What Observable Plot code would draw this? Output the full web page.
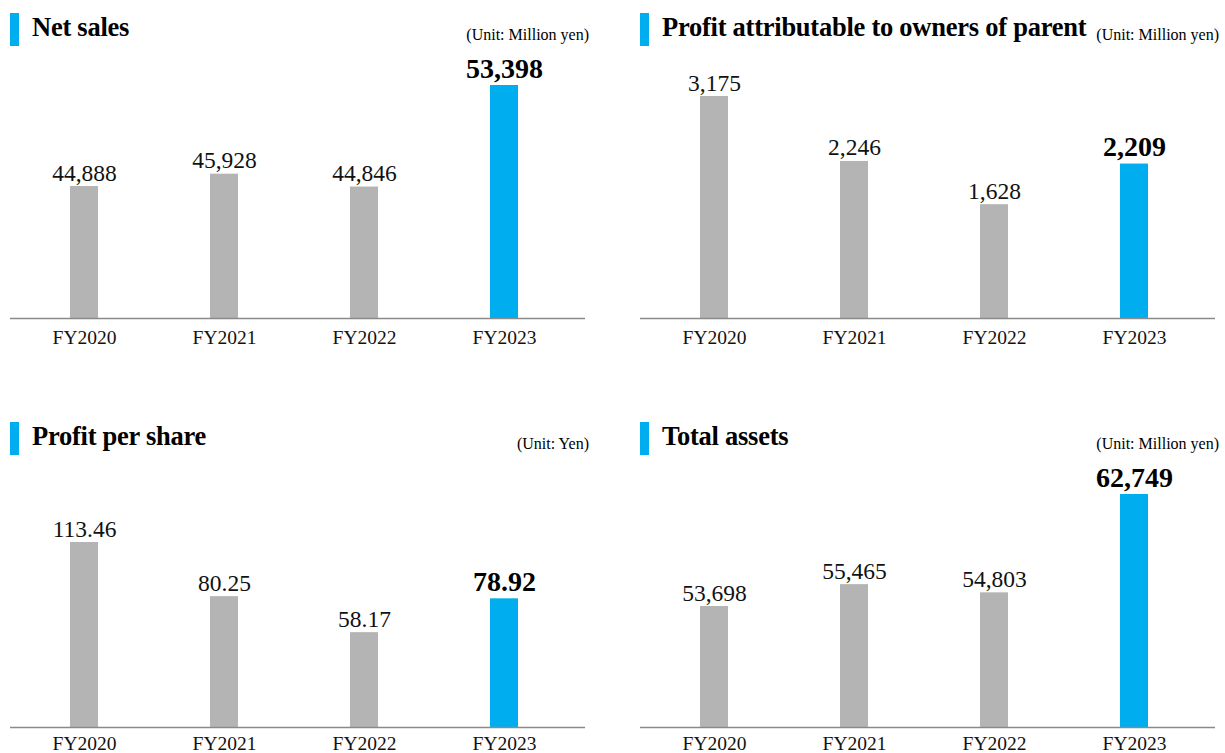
<!DOCTYPE html>
<html><head><meta charset="utf-8">
<script src="https://cdn.jsdelivr.net/npm/d3@7"></script>
<script src="https://cdn.jsdelivr.net/npm/@observablehq/plot@0.6"></script>
<style>
html,body{margin:0;padding:0;background:#fff;overflow:hidden}
#root{position:relative;width:1225px;height:753px;overflow:hidden;font-family:"Liberation Serif",Tinos,"Times New Roman",Times,"Nimbus Roman","DejaVu Serif",serif;color:#000}
.panel{position:absolute;width:612px;height:360px}
.marker{position:absolute;left:10px;top:13px;width:9px;height:33px;background:#00AEEF}
.title{position:absolute;left:32px;top:14px;font-size:26.5px;line-height:26px;font-weight:bold;white-space:nowrap;letter-spacing:-0.25px}
.unit{position:absolute;right:23px;top:27px;font-size:16px;line-height:16px;white-space:nowrap}
.panel svg{position:absolute;left:0;top:0}
</style></head><body><div id="root"></div>
<script>
// ---- data ----
const years = ["FY2020", "FY2021", "FY2022", "FY2023"];
const netSales = [44888, 45928, 44846, 53398];
const profitOwners = [3175, 2246, 1628, 2209];
const profitPerShare = [113.46, 80.25, 58.17, 78.92];
const totalAssets = [53698, 55465, 54803, 62749];
const titles = ["Net sales", "Profit attributable to owners of parent", "Profit per share", "Total assets"];
const units = ["(Unit: Million yen)", "(Unit: Million yen)", "(Unit: Yen)", "(Unit: Million yen)"];
const axisMins = [33770, 0, 0, 43920];

// ---- style ----
const BLUE = "#00AEEF";
const GRAY = "#B4B4B4";
const FONT = "'Liberation Serif', Tinos, 'Times New Roman', Times, 'Nimbus Roman', 'DejaVu Serif', serif";
const intFmt = d3.format(",");
const decFmt = d3.format(".2f");

const panels = [
  {left: 0,   top: 0,   values: netSales,       fmt: intFmt, marginTop: 85,  tickPad: 11.5},
  {left: 630, top: 0,   values: profitOwners,   fmt: intFmt, marginTop: 96,  tickPad: 11.5},
  {left: 0,   top: 409, values: profitPerShare, fmt: decFmt, marginTop: 133, tickPad: 9},
  {left: 630, top: 409, values: totalAssets,    fmt: intFmt, marginTop: 85,  tickPad: 9}
];

const root = document.getElementById("root");
panels.forEach((p, i) => {
  const div = document.createElement("div");
  div.className = "panel";
  div.style.left = p.left + "px";
  div.style.top = p.top + "px";
  const marker = document.createElement("div"); marker.className = "marker";
  const title = document.createElement("div"); title.className = "title"; title.textContent = titles[i];
  const unit = document.createElement("div"); unit.className = "unit"; unit.textContent = units[i];

  const yMin = axisMins[i];
  const data = years.map((y, j) => ({year: y, value: p.values[j]}));
  const past = data.slice(0, -1);
  const latest = data.slice(-1);

  const chart = Plot.plot({
    width: 612, height: 360,
    marginTop: p.marginTop, marginBottom: 42, marginLeft: 10, marginRight: 27,
    style: {fontFamily: FONT, background: "transparent", color: "#111", overflow: "visible"},
    x: {domain: years, range: [13, 575], paddingInner: 0.8, paddingOuter: 0.4, label: null},
    y: {domain: [yMin, d3.max(p.values)], axis: null},
    marks: [
      Plot.barY(past, {x: "year", y1: yMin, y2: "value", fill: GRAY}),
      Plot.barY(latest, {x: "year", y1: yMin, y2: "value", fill: BLUE}),
      Plot.ruleY([yMin], {stroke: "#8a8a8a", strokeWidth: 1.5}),
      Plot.axisX({tickSize: 0, tickPadding: p.tickPad, fontSize: 19.5, fill: "#111", label: null}),
      Plot.text(past, {x: "year", y: "value", text: d => p.fmt(d.value), lineAnchor: "bottom", dy: -6, fontSize: 23.5, fill: "#111"}),
      Plot.text(latest, {x: "year", y: "value", text: d => p.fmt(d.value), lineAnchor: "bottom", dy: -8, fontSize: 28, fontWeight: "bold", fill: "#000"})
    ]
  });
  div.appendChild(chart);
  div.appendChild(marker);
  div.appendChild(title);
  div.appendChild(unit);
  root.appendChild(div);
});
</script>
</body></html>
